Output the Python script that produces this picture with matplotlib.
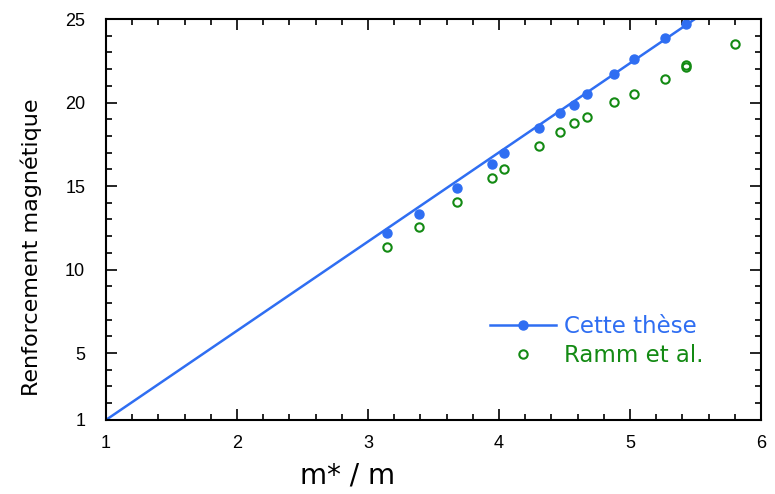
import matplotlib
matplotlib.use('Agg')
import matplotlib.pyplot as plt
from matplotlib.legend_handler import HandlerTuple
from matplotlib.ticker import MultipleLocator, FixedLocator

# theory line (Cette thèse)
line_x = [1.0, 5.6]
line_y = [1.0, 25.56]

# points "Cette thèse"
these_x = [3.147, 3.387, 3.681, 3.949, 4.038, 4.305, 4.466, 4.569, 4.674, 4.880, 5.031, 5.265, 5.427]
these_y = [12.17, 13.35, 14.90, 16.30, 17.00, 18.46, 19.36, 19.85, 20.53, 21.71, 22.59, 23.88, 24.70]

# Ramm et al.
ramm_x = [3.147, 3.387, 3.681, 3.949, 4.038, 4.305, 4.466, 4.569, 4.674, 4.880, 5.031, 5.265, 5.427, 5.427, 5.799]
ramm_y = [11.34, 12.55, 14.03, 15.50, 16.00, 17.38, 18.26, 18.76, 19.15, 20.03, 20.53, 21.43, 22.15, 22.25, 23.49]

blue = '#2f6ef2'
green = '#138a13'
font = 'DejaVu Sans'
plt.rcParams['font.family'] = 'Liberation Sans'

fig = plt.figure(figsize=(7.75, 4.94), dpi=100)
ax = fig.add_axes([0.1368, 0.150, 0.8452, 0.8115])

ln, = ax.plot(line_x, line_y, '-', color=blue, lw=1.8)
pts, = ax.plot(these_x, these_y, 'o', color=blue, ms=6.5, ls='none')
rm, = ax.plot(ramm_x, ramm_y, 'o', mfc='none', mec=green, mew=1.5, ms=6, ls='none')

ax.set_xlim(1, 6)
ax.set_ylim(1, 25)
ax.xaxis.set_major_locator(MultipleLocator(1))
ax.xaxis.set_minor_locator(MultipleLocator(0.2))
ax.yaxis.set_major_locator(FixedLocator([1, 5, 10, 15, 20, 25]))
ax.yaxis.set_minor_locator(MultipleLocator(1))
ax.tick_params(which='both', direction='in', top=True, right=True, width=1.2)
ax.tick_params(which='major', length=8)
ax.tick_params(which='minor', length=4.5)
ax.tick_params(axis='x', which='major', pad=11, labelsize=13)
ax.tick_params(axis='y', which='major', pad=15, labelsize=13)
for s in ax.spines.values():
    s.set_linewidth(1.5)

ax.set_xlabel('m* / m', fontsize=20, family=font)
ax.xaxis.set_label_coords(0.369, -0.105)
ax.set_ylabel('Renforcement magnétique', fontsize=16, family=font)
ax.yaxis.set_label_coords(-0.098, 0.43)

leg = ax.legend([(ln, pts), rm], ['Cette thèse', 'Ramm et al.'],
                handler_map={tuple: HandlerTuple(ndivide=1)},
                loc='upper left', bbox_to_anchor=(0.568, 0.29), frameon=False,
                borderpad=0, handlelength=2.9, handletextpad=0.35, labelspacing=0.25,
                prop={'family': font, 'size': 16.5})
for t, c in zip(leg.get_texts(), [blue, green]):
    t.set_color(c)

fig.savefig('out.png', dpi=100)
